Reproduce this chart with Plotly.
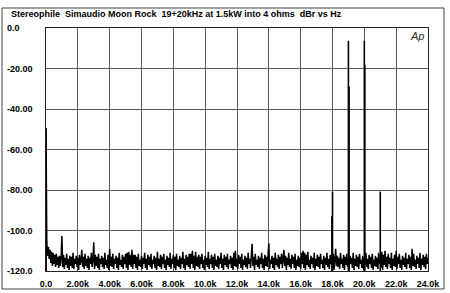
import plotly.graph_objects as go

# ---- data ----
x_ticks = [0, 2, 4, 6, 8, 10, 12, 14, 16, 18, 20, 22, 24]
x_tick_labels = ["0.0", "2.00k", "4.00k", "6.00k", "8.00k", "10.0k", "12.0k",
                 "14.0k", "16.0k", "18.0k", "20.0k", "22.0k", "24.0k"]
y_ticks = [0, -20, -40, -60, -80, -100, -120]
y_tick_labels = ["0.0", "-20.00", "-40.00", "-60.00", "-80.00", "-100.0", "-120.0"]

title_text = "Stereophile  Simaudio Moon Rock  19+20kHz at 1.5kW into 4 ohms  dBr vs Hz"

# noise floor, one reading every 0.05 kHz from 0.05 kHz to 24.0 kHz (dBr)
noise_levels = [
    -106.0, -112.5, -108.0, -114.0, -109.5, -116.0, -110.5, -117.5, -111.0, -116.5,
    -112.0, -118.0, -111.5, -117.0, -113.0, -118.5, -112.5, -117.5, -113.5, -102.7,
    -118.0, -112.0, -119.0, -113.5, -117.0, -111.5, -118.5, -114.0, -119.5, -112.5,
    -117.5, -113.0, -118.5, -111.0, -119.0, -114.0, -116.5, -112.5, -118.0, -113.5,
    -119.5, -112.0, -117.0, -114.5, -109.5, -118.0, -113.0, -119.0, -111.5, -117.5,
    -114.0, -118.5, -112.5, -119.5, -113.5, -116.5, -111.0, -118.0, -114.5, -105.8,
    -119.0, -112.0, -117.5, -113.0, -118.5, -111.5, -119.5, -114.0, -116.5, -112.5,
    -118.0, -113.5, -119.0, -111.0, -117.0, -114.5, -118.5, -112.0, -119.5, -109.0,
    -117.5, -113.0, -118.0, -111.5, -119.0, -114.0, -116.5, -112.5, -118.5, -113.5,
    -119.5, -111.0, -117.0, -114.5, -118.0, -112.0, -119.0, -113.0, -116.5, -111.5,
    -118.5, -111.0, -119.5, -110.5, -117.0, -112.0, -118.0, -109.5, -119.0, -112.0,
    -116.5, -112.0, -118.5, -113.0, -119.5, -111.5, -117.5, -114.5, -118.0, -112.5,
    -119.0, -113.5, -116.5, -111.0, -118.5, -114.0, -119.5, -112.0, -117.0, -113.0,
    -118.0, -111.5, -119.0, -114.5, -116.5, -112.5, -118.5, -113.5, -119.5, -110.5,
    -117.5, -114.0, -118.0, -112.0, -119.0, -113.0, -116.5, -111.5, -118.5, -114.5,
    -119.5, -112.5, -117.0, -113.5, -118.0, -111.0, -119.0, -114.0, -116.5, -112.0,
    -118.5, -113.0, -119.5, -111.5, -117.5, -114.5, -118.0, -112.5, -119.0, -113.5,
    -116.5, -110.5, -118.5, -114.0, -119.5, -112.0, -117.0, -113.0, -118.0, -111.5,
    -119.0, -111.5, -116.5, -110.0, -118.5, -112.5, -119.5, -110.5, -117.5, -113.0,
    -118.0, -112.0, -119.0, -113.0, -116.5, -111.5, -118.5, -114.5, -119.5, -112.5,
    -117.0, -113.5, -118.0, -110.5, -119.0, -114.0, -116.5, -112.0, -118.5, -113.0,
    -119.5, -111.5, -117.5, -114.5, -118.0, -112.5, -119.0, -113.5, -116.5, -111.0,
    -118.5, -114.0, -119.5, -112.0, -117.0, -113.0, -118.0, -111.5, -119.0, -114.5,
    -116.5, -112.5, -118.5, -113.5, -119.5, -111.0, -117.5, -110.0, -118.0, -114.0,
    -119.0, -112.0, -116.5, -113.0, -118.5, -111.5, -119.5, -114.5, -117.0, -112.5,
    -118.0, -113.5, -119.0, -111.0, -116.5, -114.0, -118.5, -112.0, -106.6, -117.5,
    -113.0, -119.5, -111.5, -117.0, -114.5, -118.0, -112.5, -119.0, -113.5, -116.5,
    -111.0, -118.5, -114.0, -119.5, -112.0, -117.5, -113.0, -118.0, -111.5, -106.3,
    -119.0, -114.5, -116.5, -112.5, -118.5, -113.5, -119.5, -111.0, -117.0, -114.0,
    -118.0, -112.0, -119.0, -113.0, -116.5, -111.5, -118.5, -114.5, -109.6, -117.5,
    -112.5, -119.5, -113.5, -117.0, -111.0, -118.0, -114.0, -119.0, -112.0, -116.5,
    -113.0, -118.5, -111.5, -119.5, -114.5, -117.5, -112.5, -118.0, -113.5, -119.0,
    -111.0, -116.5, -110.0, -118.5, -111.0, -119.5, -112.0, -117.0, -110.5, -118.0,
    -114.5, -119.0, -112.5, -116.5, -113.5, -118.5, -111.0, -119.5, -114.0, -117.5,
    -112.0, -118.0, -113.0, -119.0, -111.5, -116.5, -114.5, -118.5, -112.5, -119.5,
    -113.5, -117.0, -111.0, -118.0, -114.0, -119.0, -112.0, -116.5, -113.0, -118.5,
    -111.5, -119.5, -114.5, -109.0, -117.5, -112.5, -118.0, -113.5, -119.0, -111.0,
    -116.5, -114.0, -118.5, -112.0, -119.5, -113.0, -117.0, -111.5, -118.0, -114.5,
    -119.0, -112.5, -116.5, -113.5, -118.5, -111.0, -119.5, -114.0, -117.5, -112.0,
    -118.0, -113.0, -119.0, -111.5, -116.5, -114.5, -118.5, -112.5, -119.5, -113.5,
    -117.0, -111.0, -118.0, -114.0, -119.0, -112.0, -116.5, -113.0, -118.5, -111.5,
    -119.5, -114.5, -117.5, -112.5, -118.0, -113.5, -119.0, -111.0, -116.5, -114.0,
    -118.5, -110.5, -119.5, -112.0, -117.0, -110.0, -118.0, -113.0, -119.0, -111.5,
    -116.5, -113.5, -118.5, -111.0, -119.5, -114.0, -117.5, -112.0, -118.0, -110.0,
    -119.0, -113.0, -116.5, -111.5, -118.5, -114.5, -119.5, -112.5, -117.0, -113.5,
    -118.0, -111.0, -119.0, -114.0, -116.5, -112.0, -118.5, -113.0, -119.5, -109.0,
    -117.5, -111.5, -118.0, -114.5, -119.0, -112.5, -116.5, -113.5, -118.5, -111.0,
    -119.5, -114.0, -117.0, -112.0, -118.0, -113.0, -119.0, -111.5, -116.5, -113.5,
]
noise_step_khz = 0.05

dc_freq = 0.0
dc_level = -49.5

tone_freqs = [18.0, 19.0, 20.0, 21.0]          # kHz
tone_levels = [-80.8, -6.3, -6.3, -80.8]       # dBr
side_freqs = [17.96, 19.04, 20.03]             # adjacent bins
side_levels = [-93.0, -29.0, -18.3]

floor_level = -120.0

# ---- build traces ----
noise_x = [dc_freq, dc_freq] + [noise_step_khz * (i + 1) for i in range(len(noise_levels))]
noise_y = [floor_level, dc_level] + noise_levels

spike_x, spike_y = [], []
for f, lv in list(zip(tone_freqs, tone_levels)) + list(zip(side_freqs, side_levels)):
    spike_x += [f, f, None]
    spike_y += [floor_level, lv, None]
spike_x += [dc_freq, dc_freq]
spike_y += [floor_level, dc_level]

fig = go.Figure()
fig.add_trace(go.Scatter(x=noise_x, y=noise_y, mode="lines",
                         line=dict(color="black", width=1.5), hoverinfo="skip"))
fig.add_trace(go.Scatter(x=spike_x, y=spike_y, mode="lines",
                         line=dict(color="black", width=1.6), hoverinfo="skip"))

W, H = 450, 293
L, R, T, B = 46, 22, 28, 22
pw, ph = W - L - R, H - T - B

def px_x(p):
    return (p - L) / pw

def px_y(p):
    return (H - B - p) / ph

font_main = dict(family="Liberation Sans, Arial, sans-serif", size=9, color="black")

annotations = []
for v, t in zip(y_ticks, y_tick_labels):
    annotations.append(dict(x=px_x(5), xref="paper", y=v, yref="y", text="<b>" + t + "</b>",
                            showarrow=False, xanchor="left", yanchor="middle",
                            font=font_main))
annotations.append(dict(x=px_x(9), xref="paper", y=px_y(14), yref="paper",
                        text="<b>" + title_text + "</b>", showarrow=False,
                        xanchor="left", yanchor="middle", font=font_main))
annotations.append(dict(x=px_x(426), xref="paper", y=px_y(36), yref="paper",
                        text="<i>Ap</i>", showarrow=False, xanchor="right",
                        yanchor="middle",
                        font=dict(family="Liberation Sans, Arial, sans-serif", size=11,
                                  color="#333")))

shapes = [dict(type="rect", xref="paper", yref="paper",
               x0=px_x(2), x1=px_x(444), y0=px_y(289), y1=px_y(8),
               line=dict(color="#444", width=1), fillcolor="rgba(0,0,0,0)", layer="below")]

fig.update_layout(
    width=W, height=H,
    margin=dict(l=L, r=R, t=T, b=B, pad=0, autoexpand=False),
    paper_bgcolor="white", plot_bgcolor="white",
    showlegend=False,
    annotations=annotations,
    shapes=shapes,
    xaxis=dict(range=[0, 24], tickvals=x_ticks,
               ticktext=["<b>" + t + "</b>" for t in x_tick_labels],
               showgrid=True, gridcolor="#5a5a5a", gridwidth=1, automargin=False,
               zeroline=False, showline=True, linecolor="#222", linewidth=1, mirror=True,
               ticks="outside", ticklen=4, tickcolor="white",
               tickfont=font_main, fixedrange=True),
    yaxis=dict(range=[-120, 0], tickvals=y_ticks, showticklabels=False, automargin=False,
               showgrid=True, gridcolor="#5a5a5a", gridwidth=1,
               zeroline=False, showline=True, linecolor="#222", linewidth=1, mirror=True,
               ticks="", fixedrange=True),
)

fig.write_html("out.html")
